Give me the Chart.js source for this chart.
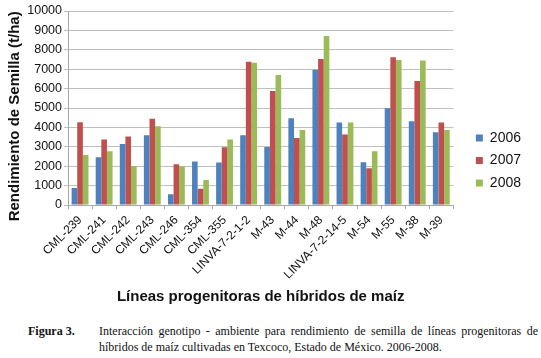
<!DOCTYPE html>
<html>
<head>
<meta charset="utf-8">
<script src="https://cdn.jsdelivr.net/npm/chart.js@4"></script>
<style>
  body { margin: 0; background: #fff; }
  #wrap { position: relative; width: 541px; height: 310px; }
  #caption {
    position: absolute; left: 28px; top: 323px; width: 510px;
    font-family: 'Liberation Serif', 'Times New Roman', serif;
    font-size: 12px; line-height: 16px; color: #111;
  }
  #caption .fig { position: absolute; left: 0; top: 0; font-weight: bold; }
  #caption .txt { margin-left: 71px; }
  #caption .l1 { text-align: justify; text-align-last: justify; }
</style>
</head>
<body>
<div id="wrap"><canvas id="yieldChart" width="541" height="310"></canvas></div>
<div id="caption">
  <span class="fig">Figura 3.</span>
  <div class="txt">
    <div class="l1">Interacción genotipo - ambiente para rendimiento de semilla de líneas progenitoras de</div>
    <div>híbridos de maíz cultivadas en Texcoco, Estado de México. 2006-2008.</div>
  </div>
</div>
<script>
// Lineas y rendimientos
const lineas = ['CML-239', 'CML-241', 'CML-242', 'CML-243', 'CML-246', 'CML-354', 'CML-355',
  'LINVA-7-2-1-2', 'M-43', 'M-44', 'M-48', 'LINVA-7-2-14-5', 'M-54', 'M-55', 'M-38', 'M-39'];
const anios = ['2006', '2007', '2008'];
const rend2006 = [880, 2460, 3150, 3600, 550, 2240, 2190, 3600, 2990, 4470, 6970, 4250, 2200, 4990, 4320, 3750];
const rend2007 = [4270, 3370, 3530, 4440, 2100, 840, 2980, 7380, 5870, 3460, 7520, 3630, 1890, 7610, 6390, 4250];
const rend2008 = [2580, 2770, 2010, 4060, 2000, 1290, 3370, 7330, 6700, 3860, 8710, 4250, 2770, 7470, 7450, 3860];
const yTicks = [0, 1000, 2000, 3000, 4000, 5000, 6000, 7000, 8000, 9000, 10000];

const colores = ['#4F81BD', '#C0504D', '#9BBB59'];
const series = [rend2006, rend2007, rend2008];

const ctx = document.getElementById('yieldChart').getContext('2d');
new Chart(ctx, {
  type: 'bar',
  data: {
    labels: lineas,
    datasets: series.map((vals, i) => ({
      label: anios[i],
      data: vals,
      backgroundColor: colores[i],
      borderWidth: 0,
      categoryPercentage: 0.7,
      barPercentage: 1.0
    }))
  },
  options: {
    responsive: false,
    animation: false,
    layout: { padding: { top: 11, right: 10, bottom: 0, left: 0 } },
    plugins: {
      tooltip: { enabled: false },
      legend: {
        position: 'right',
        labels: {
          boxWidth: 7,
          boxHeight: 7,
          padding: 8.5,
          color: '#111',
          font: { family: 'Liberation Sans, Arial, sans-serif', size: 14 }
        }
      }
    },
    scales: {
      x: {
        grid: { drawOnChartArea: false, color: '#a6a6a6', tickLength: 4 },
        border: { color: '#a6a6a6' },
        ticks: {
          autoSkip: false,
          minRotation: 45,
          maxRotation: 45,
          padding: 4,
          color: '#111',
          font: { family: 'Liberation Sans, Arial, sans-serif', size: 12 }
        },
        title: {
          display: true,
          text: 'Líneas progenitoras de híbridos de maíz',
          color: '#111',
          padding: { top: 0, bottom: 4 },
          font: { family: 'Liberation Sans, Arial, sans-serif', size: 15, weight: 'bold' }
        },
        afterFit: (s) => { s.height = 105; }
      },
      y: {
        min: 0,
        max: 10000,
        afterBuildTicks: (s) => { s.ticks = yTicks.map(v => ({ value: v })); },
        grid: { color: '#bfbfbf', tickLength: 4 },
        border: { color: '#a6a6a6' },
        ticks: {
          padding: 2,
          color: '#111',
          callback: (v) => String(v),
          font: { family: 'Liberation Sans, Arial, sans-serif', size: 12.5 }
        },
        title: {
          display: true,
          // espacios al final: bajan el titulo unos px, como en el original
          text: 'Rendimiento de Semilla (t/ha)    ',
          color: '#111',
          padding: { top: 6, bottom: 0 },
          font: { family: 'Liberation Sans, Arial, sans-serif', size: 15, weight: 'bold' }
        },
        afterFit: (s) => { s.width = 68; }
      },
      // eje vacio a la derecha: solo deja el hueco entre el grafico y la leyenda
      sep: {
        position: 'right',
        display: true,
        grid: { display: false },
        border: { display: false },
        ticks: { display: false },
        afterFit: (s) => { s.width = 14; }
      }
    }
  }
});
</script>
</body>
</html>
